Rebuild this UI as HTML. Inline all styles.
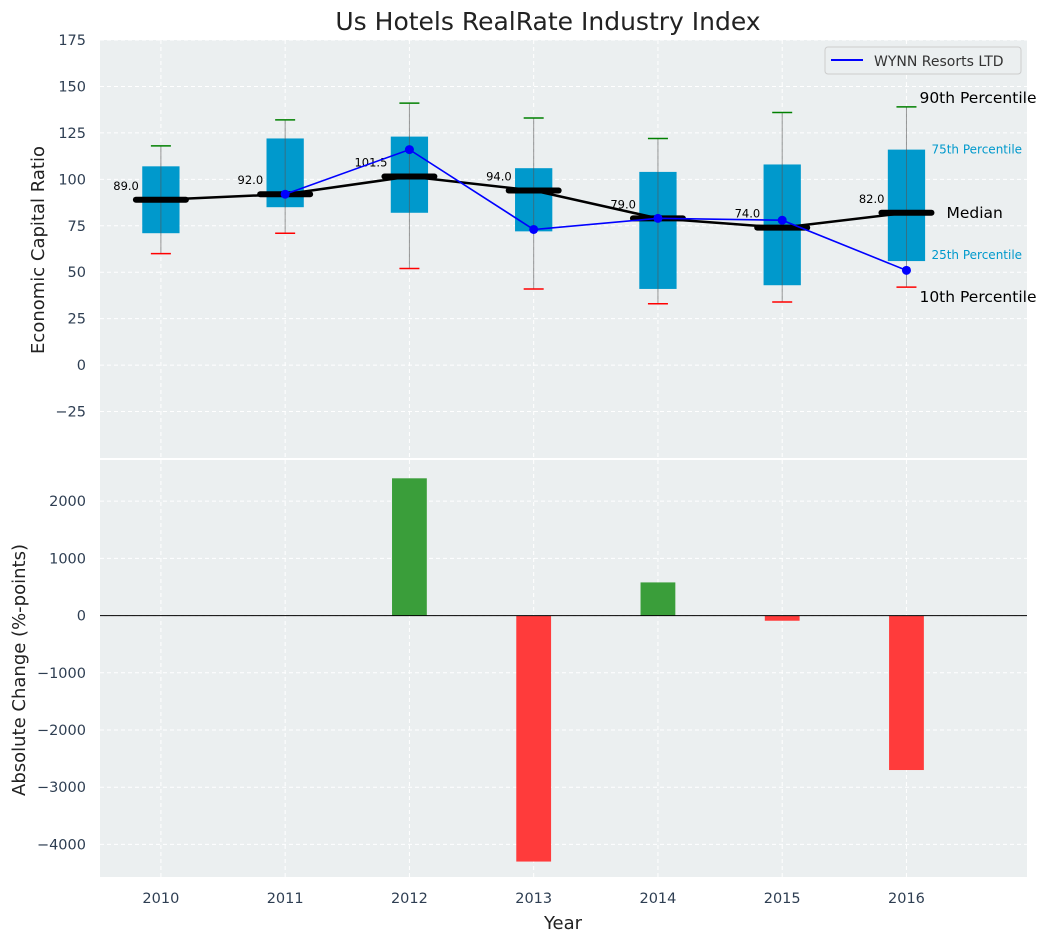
<!DOCTYPE html>
<html><head><meta charset="utf-8"><style>
body{margin:0;background:#fff;font-family:"Liberation Sans","DejaVu Sans",sans-serif}
svg text{font-family:"DejaVu Sans","Liberation Sans",sans-serif}
</style></head><body>
<svg id="c" width="1054" height="942" xmlns="http://www.w3.org/2000/svg"></svg>
<script>
const years=[2010,2011,2012,2013,2014,2015,2016];
const p10=[60,71,52,41,33,34,42];
const q1=[71,85,82,72,41,43,56];
const medians=[89,92,101.5,94,79,74,82];
const q3=[107,122,123,106,104,108,116];
const p90=[118,132,141,133,122,136,139];
const wynnYears=[2011,2012,2013,2014,2015,2016];
const wynn=[92,116,73,79,78,51];
const changeYears=[2012,2013,2014,2015,2016];
const changes=[2400,-4300,580,-90,-2700];
const topTicks=[-25,0,25,50,75,100,125,150,175];
const botTicks=[-4000,-3000,-2000,-1000,0,1000,2000];

const NS="http://www.w3.org/2000/svg",svg=document.getElementById('c');
function el(t,a,p){const e=document.createElementNS(NS,t);for(const k in a)e.setAttribute(k,a[k]);(p||svg).appendChild(e);return e;}
const L=100,R=1027;
const x=v=>L+(v-2009.51)/(2016.97-2009.51)*(R-L);
const T0=40,T1=458,yT=v=>T0+(175-v)/(175+50)*(T1-T0);
const B0=460,B1=877,yB=v=>B0+(2720-v)/(2720+4570)*(B1-B0);

let e=el('rect',{x:L,y:T0,width:R-L,height:T1-T0,fill:'#ebeff0'});

e=el('rect',{x:L,y:B0,width:R-L,height:B1-B0,fill:'#ebeff0'});

years.forEach(v=>{[[T0,T1],[B0,B1]].forEach(r=>{el('line',{x1:x(v),x2:x(v),y1:r[0],y2:r[1],stroke:'#fff','stroke-dasharray':'4,3'});});});
topTicks.forEach(v=>{el('line',{x1:L,x2:R,y1:yT(v),y2:yT(v),stroke:'#fff','stroke-dasharray':'4,3'});
 e=el('text',{x:L-14,y:yT(v)+5,'text-anchor':'end','font-size':14.5,fill:'#2e3e52'});e.textContent=v<0?'\u2212'+(-v):v;
 });
botTicks.forEach(v=>{el('line',{x1:L,x2:R,y1:yB(v),y2:yB(v),stroke:'#fff','stroke-dasharray':'4,3'});
 e=el('text',{x:L-14,y:yB(v)+5,'text-anchor':'end','font-size':14.5,fill:'#2e3e52'});e.textContent=v<0?'\u2212'+(-v):v;
 });
years.forEach(v=>{e=el('text',{x:x(v),y:903,'text-anchor':'middle','font-size':14.5,fill:'#2e3e52'});e.textContent=v;
 });

const bw=0.15;
years.forEach((yr,i)=>{
 const cx=x(yr);
 e=el('rect',{x:x(yr-bw),y:yT(q3[i]),width:x(yr+bw)-x(yr-bw),height:yT(q1[i])-yT(q3[i]),fill:'#0099cc'});
 
 el('line',{x1:cx,x2:cx,y1:yT(p90[i]),y2:yT(p10[i]),stroke:'#555','stroke-width':1,opacity:0.6});
 el('line',{x1:cx-10,x2:cx+10,y1:yT(p90[i]),y2:yT(p90[i]),stroke:'green','stroke-width':1.5});
 el('line',{x1:cx-10,x2:cx+10,y1:yT(p10[i]),y2:yT(p10[i]),stroke:'red','stroke-width':1.5});
 e=el('text',{x:cx-22,y:yT(medians[i])-10,'text-anchor':'end','font-size':11.5,fill:'#000'});e.textContent=medians[i].toFixed(1);
 
});
e=el('polyline',{points:years.map((y,i)=>x(y)+','+yT(medians[i])).join(' '),fill:'none',stroke:'#000','stroke-width':2.5});

years.forEach((yr,i)=>{el('line',{x1:x(yr)-25,x2:x(yr)+25,y1:yT(medians[i]),y2:yT(medians[i]),stroke:'#000','stroke-width':6,'stroke-linecap':'round'});});
e=el('polyline',{points:wynnYears.map((y,i)=>x(y)+','+yT(wynn[i])).join(' '),fill:'none',stroke:'#0000ff','stroke-width':1.6});

wynnYears.forEach((yr,i)=>{e=el('circle',{cx:x(yr),cy:yT(wynn[i]),r:4.5,fill:'#0000ff'});
 });
const li=years.length-1,lx=x(years[li]);
[['90th Percentile',p90[li],lx+13,15.5,'#000',-4],['75th Percentile',q3[li],lx+25,12,'#0099cc',4],['Median',medians[li],lx+40,15.5,'#000',5],['25th Percentile',q1[li],lx+25,12,'#0099cc',-2],['10th Percentile',p10[li],lx+13,15.5,'#000',15]].forEach(a=>{
 e=el('text',{x:a[2],y:yT(a[1])+a[5],'font-size':a[3],fill:a[4]});e.textContent=a[0];
 });
const lg=el('g',{});
el('rect',{x:825,y:47,width:196,height:27,rx:3,fill:'#ebeff0',stroke:'#ccc'},lg);
el('line',{x1:831,x2:863,y1:60,y2:60,stroke:'#0000ff','stroke-width':2},lg);
e=el('text',{x:874,y:66,'font-size':14,fill:'#333'},lg);e.textContent='WYNN Resorts LTD';

changeYears.forEach((yr,i)=>{const v=changes[i];
 e=el('rect',{x:x(yr-0.14),y:Math.min(yB(v),yB(0)),width:x(yr+0.14)-x(yr-0.14),height:Math.abs(yB(v)-yB(0)),fill:v>=0?'#3a9e3a':'#ff3b3b'});
 });
el('line',{x1:L,x2:R,y1:yB(0),y2:yB(0),stroke:'#000','stroke-width':1});

e=el('text',{x:548,y:30,'text-anchor':'middle','font-size':25,fill:'#222'});e.textContent='Us Hotels RealRate Industry Index';

e=el('text',{x:44,y:250,'text-anchor':'middle','font-size':18,fill:'#222',transform:'rotate(-90 44 250)'});e.textContent='Economic Capital Ratio';

e=el('text',{x:25,y:670,'text-anchor':'middle','font-size':18,fill:'#222',transform:'rotate(-90 25 670)'});e.textContent='Absolute Change (%-points)';

e=el('text',{x:563,y:929,'text-anchor':'middle','font-size':18,fill:'#222'});e.textContent='Year';

</script>
</body></html>
